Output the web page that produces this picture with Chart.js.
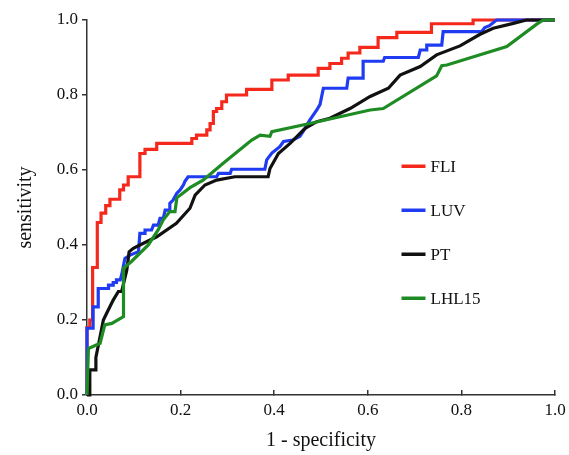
<!DOCTYPE html>
<html><head><meta charset="utf-8">
<script src="https://cdn.jsdelivr.net/npm/chart.js@4.4.1/dist/chart.umd.min.js"></script>
<style>html,body{margin:0;padding:0;background:#fff;}canvas{display:block;}</style>
</head><body>
<canvas id="c" width="569" height="455"></canvas>
<script>
const seriesNames = ['FLI', 'LUV', 'PT', 'LHL15'];
const tickValues = [0, 0.2, 0.4, 0.6, 0.8, 1.0];

const fliPoints = [[0,0],[0,0.18],[0.006,0.18],[0.006,0.2],[0.012,0.2],[0.012,0.34],[0.022,0.34],[0.022,0.46],[0.03,0.46],[0.03,0.485],[0.04,0.485],[0.04,0.505],[0.049,0.505],[0.049,0.522],[0.07,0.522],[0.07,0.547],[0.078,0.547],[0.078,0.56],[0.088,0.56],[0.088,0.582],[0.113,0.582],[0.113,0.644],[0.124,0.644],[0.124,0.655],[0.149,0.655],[0.149,0.671],[0.224,0.671],[0.224,0.684],[0.234,0.684],[0.234,0.693],[0.256,0.693],[0.256,0.707],[0.263,0.707],[0.263,0.724],[0.27,0.724],[0.27,0.756],[0.277,0.756],[0.277,0.764],[0.288,0.764],[0.288,0.782],[0.298,0.782],[0.298,0.8],[0.341,0.8],[0.341,0.815],[0.395,0.815],[0.395,0.84],[0.43,0.84],[0.43,0.853],[0.494,0.853],[0.494,0.871],[0.519,0.871],[0.519,0.884],[0.544,0.884],[0.544,0.898],[0.558,0.898],[0.558,0.912],[0.583,0.912],[0.583,0.927],[0.622,0.927],[0.622,0.953],[0.662,0.953],[0.662,0.967],[0.736,0.967],[0.736,0.99],[0.825,0.99],[0.825,1],[1,1]];

const luvPoints = [[0,0],[0,0.178],[0.013,0.178],[0.013,0.235],[0.024,0.235],[0.024,0.284],[0.046,0.284],[0.046,0.293],[0.056,0.293],[0.056,0.3],[0.063,0.3],[0.063,0.307],[0.071,0.307],[0.074,0.32],[0.081,0.364],[0.092,0.373],[0.11,0.382],[0.113,0.431],[0.124,0.431],[0.124,0.44],[0.138,0.44],[0.142,0.453],[0.152,0.453],[0.156,0.471],[0.163,0.471],[0.167,0.493],[0.177,0.493],[0.177,0.511],[0.184,0.52],[0.192,0.538],[0.199,0.547],[0.206,0.56],[0.209,0.569],[0.216,0.582],[0.277,0.582],[0.281,0.591],[0.306,0.591],[0.309,0.602],[0.38,0.602],[0.384,0.627],[0.395,0.645],[0.412,0.662],[0.42,0.676],[0.44,0.68],[0.455,0.69],[0.466,0.711],[0.476,0.733],[0.491,0.76],[0.498,0.775],[0.505,0.818],[0.555,0.818],[0.558,0.845],[0.59,0.845],[0.59,0.89],[0.633,0.89],[0.636,0.9],[0.708,0.9],[0.712,0.92],[0.726,0.92],[0.726,0.933],[0.758,0.933],[0.761,0.969],[0.843,0.969],[0.85,0.98],[0.86,0.985],[0.875,1],[1,1]];

const ptPoints = [[0,0],[0.006,0],[0.006,0.067],[0.019,0.067],[0.019,0.1],[0.028,0.156],[0.035,0.2],[0.042,0.218],[0.056,0.253],[0.067,0.276],[0.074,0.276],[0.085,0.333],[0.09,0.382],[0.099,0.391],[0.113,0.4],[0.149,0.422],[0.191,0.458],[0.22,0.498],[0.231,0.533],[0.252,0.56],[0.277,0.573],[0.316,0.582],[0.387,0.582],[0.391,0.604],[0.409,0.644],[0.434,0.671],[0.466,0.711],[0.491,0.729],[0.519,0.738],[0.562,0.764],[0.605,0.796],[0.644,0.818],[0.669,0.853],[0.712,0.876],[0.747,0.907],[0.797,0.931],[0.84,0.962],[0.868,0.978],[0.911,0.991],[0.939,1],[1,1]];

const lhl15Points = [[0,0],[0.003,0.124],[0.028,0.138],[0.038,0.187],[0.053,0.191],[0.078,0.209],[0.078,0.338],[0.095,0.356],[0.131,0.4],[0.152,0.44],[0.163,0.467],[0.177,0.489],[0.188,0.489],[0.192,0.526],[0.22,0.553],[0.248,0.573],[0.291,0.618],[0.352,0.68],[0.37,0.693],[0.391,0.69],[0.395,0.702],[0.476,0.724],[0.605,0.76],[0.633,0.764],[0.747,0.851],[0.758,0.878],[0.769,0.88],[0.897,0.929],[0.961,0.989],[0.975,1],[1,1]];

const seriesPoints = [fliPoints, luvPoints, ptPoints, lhl15Points];
const seriesColors = ['#f5281c', '#1f3cf2', '#111111', '#1e8c23'];
const FONT = "'Liberation Serif', 'Times New Roman', serif";

const legendPlugin = {
  id: 'insideLegend',
  afterDraw(chart) {
    const ctx = chart.ctx;
    const x = chart.scales.x.getPixelForValue(0.672);
    chart.data.datasets.forEach((ds, i) => {
      const y = chart.scales.y.getPixelForValue(0.61) + i * 44;
      ctx.save();
      ctx.strokeStyle = ds.borderColor;
      ctx.lineWidth = 3.5;
      ctx.beginPath();
      ctx.moveTo(x, y);
      ctx.lineTo(x + 24, y);
      ctx.stroke();
      ctx.fillStyle = '#111';
      ctx.font = "17px " + FONT;
      ctx.textAlign = 'left';
      ctx.textBaseline = 'middle';
      ctx.fillText(ds.label, x + 29, y + 1);
      ctx.restore();
    });
  }
};

new Chart(document.getElementById('c'), {
  type: 'scatter',
  data: {
    datasets: seriesNames.map((name, i) => ({
      label: name,
      data: seriesPoints[i].map(p => ({x: p[0], y: p[1]})),
      showLine: true,
      borderColor: seriesColors[i],
      backgroundColor: seriesColors[i],
      borderWidth: 3.2,
      pointRadius: 0,
      tension: 0,
      fill: false,
      clip: false,
      order: 3 - i
    }))
  },
  options: {
    responsive: false,
    animation: false,
    events: [],
    layout: {padding: {left: 0, top: 20, right: 14, bottom: 0}},
    plugins: {legend: {display: false}, tooltip: {enabled: false}},
    scales: {
      x: {
        type: 'linear', min: 0, max: 1,
        afterBuildTicks: s => { s.ticks = tickValues.map(v => ({value: v})); },
        afterFit: s => { s.height = 60; s.paddingLeft = 0; s.paddingRight = 0; },
        grid: {display: true, drawOnChartArea: false, drawTicks: true, tickLength: -5, color: '#333', lineWidth: 1.5},
        border: {display: true, color: '#333', width: 1.5},
        ticks: {padding: 10, color: '#111', font: {family: FONT, size: 17}, callback: v => Number(v).toFixed(1), maxRotation: 0, autoSkip: false},
        title: {display: true, text: '1 - specificity', color: '#111', font: {family: FONT, size: 20}, padding: {top: 0, bottom: 2}}
      },
      y: {
        type: 'linear', min: 0, max: 1,
        afterBuildTicks: s => { s.ticks = tickValues.map(v => ({value: v})); },
        afterFit: s => { s.width = 87; s.paddingTop = 0; s.paddingBottom = 0; },
        grid: {display: true, drawOnChartArea: false, drawTicks: true, tickLength: 5, color: '#333', lineWidth: 1.5},
        border: {display: true, color: '#333', width: 1.5},
        ticks: {padding: 4, color: '#111', font: {family: FONT, size: 17}, callback: v => Number(v).toFixed(1), autoSkip: false},
        title: {display: true, text: 'sensitivity', color: '#111', font: {family: FONT, size: 20}, padding: {top: 14, bottom: 0}}
      }
    }
  },
  plugins: [legendPlugin]
});
</script>
</body></html>
